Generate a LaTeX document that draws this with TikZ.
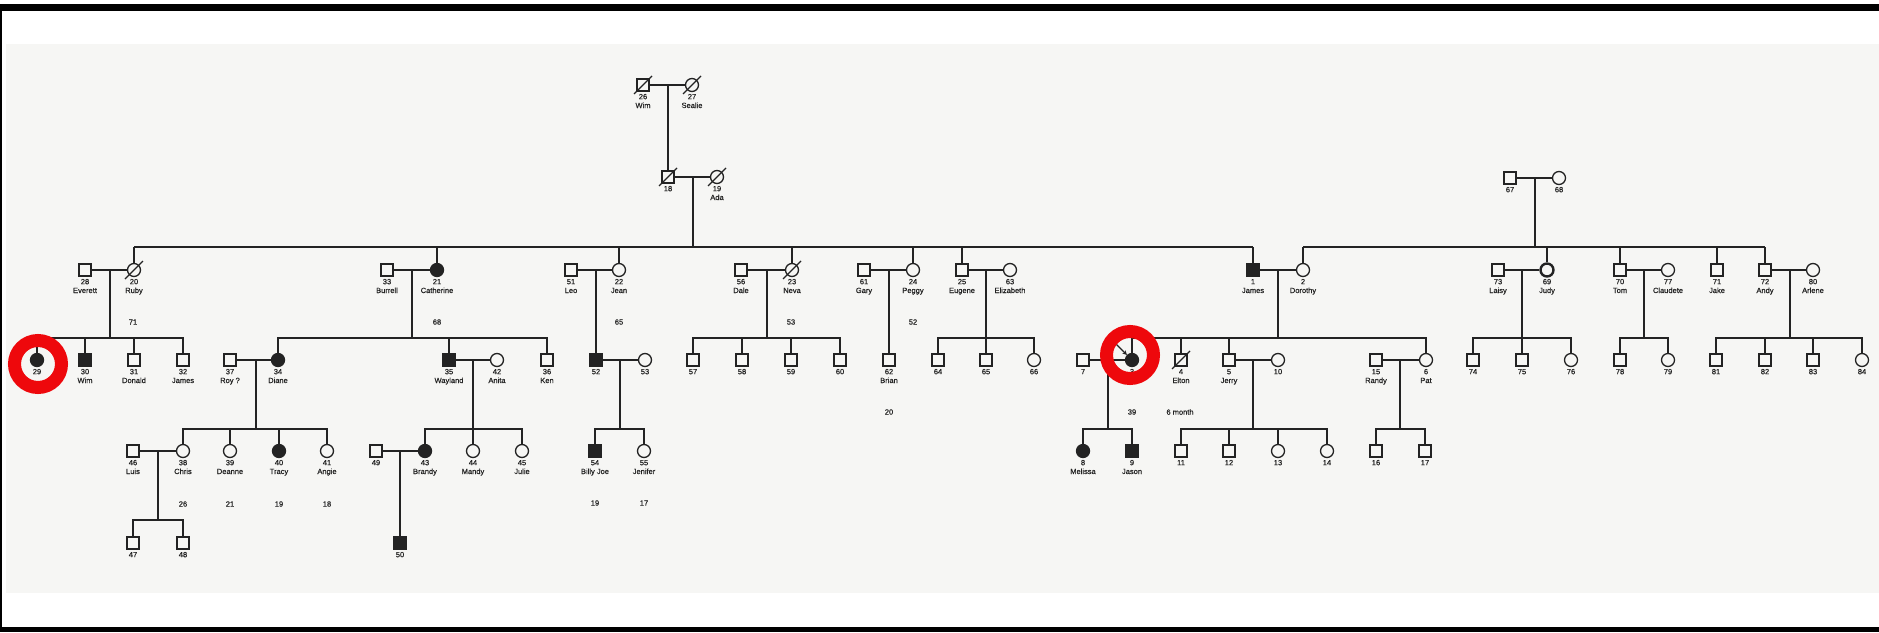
\documentclass[tikz,border=0pt]{standalone}
\usepackage{fontspec}
\setmainfont{Liberation Sans}
\newfontfamily\labfont[FakeBold=0.5]{Liberation Sans}
\usetikzlibrary{arrows.meta}
\definecolor{ink}{RGB}{35,35,35}
\definecolor{scan}{RGB}{246,246,244}
\definecolor{ringred}{RGB}{238,8,12}
\tikzset{
 sq/.style={draw=ink, line width=1.3pt, minimum size=12pt, inner sep=0pt, rectangle},
 ci/.style={draw=ink, line width=1.3pt, minimum size=13pt, inner sep=0pt, circle},
 aff/.style={fill=ink},
 judy/.style={line width=2.4pt},
 num/.style={font=\labfont\fontsize{7.5}{9}\selectfont, anchor=base, inner sep=0pt, text=ink},
 age/.style={font=\labfont\fontsize{7.5}{9}\selectfont, inner sep=0pt, text=ink},
 ln/.style={draw=ink, line width=1.2pt},
 ring/.style={draw=ringred, line width=13pt, circle, minimum size=47pt, inner sep=0pt},
}
\newcommand\pp[6]{%
  \node[#2] (#1) at (#3,-#4) {};
  \node[num] (#1n) at ([yshift=-14.2pt]#1.center) {#5};
  \node[num] (#1t) at ([yshift=-23pt]#1.center) {#6};
}
\newcommand\dead[1]{\draw[ink,line width=1.2pt] ([shift={(-9pt,-9pt)}]#1.center) -- ([shift={(9pt,9pt)}]#1.center);}
\begin{document}
\begin{tikzpicture}[x=1pt,y=1pt]
\useasboundingbox (0,0) rectangle (1879,-632);
% frame and scan
\fill[white] (0,0) rectangle (1879,-632);
\fill[scan] (6,-44) rectangle (1879,-593);
\fill[black] (0,-4) rectangle (1879,-11);
\fill[black] (0,-627) rectangle (1879,-632);
\fill[black] (0,-4) rectangle (2,-632);

% ---------- persons ----------
% Gen I
\pp{p26}{sq}{643}{85}{26}{Wim}
\pp{p27}{ci}{692}{85}{27}{Sealie}
\pp{p18}{sq}{668}{177}{18}{}
\pp{p19}{ci}{717}{177}{19}{Ada}
\dead{p26}\dead{p27}\dead{p18}\dead{p19}
% Gen II
\pp{p28}{sq}{85}{270}{28}{Everett}
\pp{p20}{ci}{134}{270}{20}{Ruby}
\dead{p20}
\pp{p33}{sq}{387}{270}{33}{Burrell}
\pp{p21}{ci,aff}{437}{270}{21}{Catherine}
\pp{p51}{sq}{571}{270}{51}{Leo}
\pp{p22}{ci}{619}{270}{22}{Jean}
\pp{p56}{sq}{741}{270}{56}{Dale}
\pp{p23}{ci}{792}{270}{23}{Neva}
\dead{p23}
\pp{p61}{sq}{864}{270}{61}{Gary}
\pp{p24}{ci}{913}{270}{24}{Peggy}
\pp{p25}{sq}{962}{270}{25}{Eugene}
\pp{p63}{ci}{1010}{270}{63}{Elizabeth}
\pp{p1}{sq,aff}{1253}{270}{1}{James}
\pp{p2}{ci}{1303}{270}{2}{Dorothy}
\pp{p67}{sq}{1510}{178}{67}{}
\pp{p68}{ci}{1559}{178}{68}{}
\pp{p73}{sq}{1498}{270}{73}{Laisy}
\pp{p69}{ci,judy}{1547}{270}{69}{Judy}
\pp{p70}{sq}{1620}{270}{70}{Tom}
\pp{p77}{ci}{1668}{270}{77}{Claudete}
\pp{p71}{sq}{1717}{270}{71}{Jake}
\pp{p72}{sq}{1765}{270}{72}{Andy}
\pp{p80}{ci}{1813}{270}{80}{Arlene}
% Gen III
\pp{p29}{ci,aff}{37}{360}{29}{}
\pp{p30}{sq,aff}{85}{360}{30}{Wim}
\pp{p31}{sq}{134}{360}{31}{Donald}
\pp{p32}{sq}{183}{360}{32}{James}
\pp{p37}{sq}{230}{360}{37}{Roy ?}
\pp{p34}{ci,aff}{278}{360}{34}{Diane}
\pp{p35}{sq,aff}{449}{360}{35}{Wayland}
\pp{p42}{ci}{497}{360}{42}{Anita}
\pp{p36}{sq}{547}{360}{36}{Ken}
\pp{p52}{sq,aff}{596}{360}{52}{}
\pp{p53}{ci}{645}{360}{53}{}
\pp{p57}{sq}{693}{360}{57}{}
\pp{p58}{sq}{742}{360}{58}{}
\pp{p59}{sq}{791}{360}{59}{}
\pp{p60}{sq}{840}{360}{60}{}
\pp{p62}{sq}{889}{360}{62}{Brian}
\pp{p64}{sq}{938}{360}{64}{}
\pp{p65}{sq}{986}{360}{65}{}
\pp{p66}{ci}{1034}{360}{66}{}
\pp{p7}{sq}{1083}{360}{7}{}
\pp{p3}{ci,aff}{1132}{360}{3}{}
\pp{p4}{sq}{1181}{360}{4}{Elton}
\dead{p4}
\pp{p5}{sq}{1229}{360}{5}{Jerry}
\pp{p10}{ci}{1278}{360}{10}{}
\pp{p15}{sq}{1376}{360}{15}{Randy}
\pp{p6}{ci}{1426}{360}{6}{Pat}
\pp{p74}{sq}{1473}{360}{74}{}
\pp{p75}{sq}{1522}{360}{75}{}
\pp{p76}{ci}{1571}{360}{76}{}
\pp{p78}{sq}{1620}{360}{78}{}
\pp{p79}{ci}{1668}{360}{79}{}
\pp{p81}{sq}{1716}{360}{81}{}
\pp{p82}{sq}{1765}{360}{82}{}
\pp{p83}{sq}{1813}{360}{83}{}
\pp{p84}{ci}{1862}{360}{84}{}
% Gen IV
\pp{p46}{sq}{133}{451}{46}{Luis}
\pp{p38}{ci}{183}{451}{38}{Chris}
\pp{p39}{ci}{230}{451}{39}{Deanne}
\pp{p40}{ci,aff}{279}{451}{40}{Tracy}
\pp{p41}{ci}{327}{451}{41}{Angie}
\pp{p49}{sq}{376}{451}{49}{}
\pp{p43}{ci,aff}{425}{451}{43}{Brandy}
\pp{p44}{ci}{473}{451}{44}{Mandy}
\pp{p45}{ci}{522}{451}{45}{Julie}
\pp{p54}{sq,aff}{595}{451}{54}{Billy Joe}
\pp{p55}{ci}{644}{451}{55}{Jenifer}
\pp{p8}{ci,aff}{1083}{451}{8}{Melissa}
\pp{p9}{sq,aff}{1132}{451}{9}{Jason}
\pp{p11}{sq}{1181}{451}{11}{}
\pp{p12}{sq}{1229}{451}{12}{}
\pp{p13}{ci}{1278}{451}{13}{}
\pp{p14}{ci}{1327}{451}{14}{}
\pp{p16}{sq}{1376}{451}{16}{}
\pp{p17}{sq}{1425}{451}{17}{}
% Gen V
\pp{p47}{sq}{133}{543}{47}{}
\pp{p48}{sq}{183}{543}{48}{}
\pp{p50}{sq,aff}{400}{543}{50}{}

% ---------- connectors ----------
\coordinate (m26) at (668,-85);
\draw[ln] (p26) -- (p27);
\draw[ln] (m26) -- (p18);
\coordinate (m18) at (693,-177);
\coordinate (s18) at (693,-247);
\draw[ln] (p18) -- (p19);
\draw[ln] (m18) -- (s18);
\draw[ln] (p20 |- s18) -- (p1 |- s18);
\foreach \c in {p20,p21,p22,p23,p24,p25,p1} \draw[ln] (\c |- s18) -- (\c);

\coordinate (m28) at (110,-270); \coordinate (s28) at (110,-338);
\draw[ln] (p28) -- (p20); \draw[ln] (m28) -- (s28);
\draw[ln] (p29) |- (s28) -| (p32);
\foreach \c in {p30,p31} \draw[ln] (s28 -| \c) -- (\c);

\coordinate (m33) at (412,-270); \coordinate (s33) at (412,-338);
\draw[ln] (p33) -- (p21); \draw[ln] (m33) -- (s33);
\draw[ln] (p34) |- (s33) -| (p36);
\draw[ln] (s33 -| p35) -- (p35);

\coordinate (m51) at (596,-270);
\draw[ln] (p51) -- (p22); \draw[ln] (m51) -- (p52);

\coordinate (m56) at (767,-270); \coordinate (s56) at (767,-338);
\draw[ln] (p56) -- (p23); \draw[ln] (m56) -- (s56);
\draw[ln] (p57) |- (s56) -| (p60);
\foreach \c in {p58,p59} \draw[ln] (s56 -| \c) -- (\c);

\coordinate (m61) at (889,-270);
\draw[ln] (p61) -- (p24); \draw[ln] (m61) -- (p62);

\coordinate (m25) at (986,-270); \coordinate (s25) at (986,-338);
\draw[ln] (p25) -- (p63); \draw[ln] (m25) -- (s25);
\draw[ln] (p64) |- (s25) -| (p66);
\draw[ln] (s25 -| p65) -- (p65);

\coordinate (m1) at (1278,-270); \coordinate (s1) at (1278,-338);
\draw[ln] (p1) -- (p2); \draw[ln] (m1) -- (s1);
\draw[ln] (p3) |- (s1) -| (p6);
\foreach \c in {p4,p5} \draw[ln] (s1 -| \c) -- (\c);

\coordinate (m67) at (1535,-178); \coordinate (s67) at (1535,-247);
\draw[ln] (p67) -- (p68); \draw[ln] (m67) -- (s67);
\draw[ln] (p2 |- s67) -- (p72 |- s67);
\foreach \c in {p2,p69,p70,p71,p72} \draw[ln] (\c |- s67) -- (\c);

\coordinate (m73) at (1522,-270); \coordinate (s73) at (1522,-338);
\draw[ln] (p73) -- (p69); \draw[ln] (m73) -- (s73);
\draw[ln] (p74) |- (s73) -| (p76);
\draw[ln] (s73 -| p75) -- (p75);

\coordinate (m70) at (1644,-270); \coordinate (s70) at (1644,-338);
\draw[ln] (p70) -- (p77); \draw[ln] (m70) -- (s70);
\draw[ln] (p78) |- (s70) -| (p79);

\coordinate (m72) at (1790,-270); \coordinate (s72) at (1790,-338);
\draw[ln] (p72) -- (p80); \draw[ln] (m72) -- (s72);
\draw[ln] (p81) |- (s72) -| (p84);
\foreach \c in {p82,p83} \draw[ln] (s72 -| \c) -- (\c);

\coordinate (m37) at (256,-360); \coordinate (s37) at (256,-429);
\draw[ln] (p37) -- (p34); \draw[ln] (m37) -- (s37);
\draw[ln] (p38) |- (s37) -| (p41);
\foreach \c in {p39,p40} \draw[ln] (s37 -| \c) -- (\c);

\coordinate (m35) at (473,-360); \coordinate (s35) at (473,-429);
\draw[ln] (p35) -- (p42); \draw[ln] (m35) -- (s35);
\draw[ln] (p43) |- (s35) -| (p45);
\draw[ln] (s35 -| p44) -- (p44);

\coordinate (m52) at (620,-360); \coordinate (s52) at (620,-429);
\draw[ln] (p52) -- (p53); \draw[ln] (m52) -- (s52);
\draw[ln] (p54) |- (s52) -| (p55);

\coordinate (m7) at (1108,-360); \coordinate (s7) at (1108,-429);
\draw[ln] (p7) -- (p3); \draw[ln] (m7) -- (s7);
\draw[ln] (p8) |- (s7) -| (p9);

\coordinate (m5) at (1253,-360); \coordinate (s5) at (1253,-429);
\draw[ln] (p5) -- (p10); \draw[ln] (m5) -- (s5);
\draw[ln] (p11) |- (s5) -| (p14);
\foreach \c in {p12,p13} \draw[ln] (s5 -| \c) -- (\c);

\coordinate (m15) at (1400,-360); \coordinate (s15) at (1400,-429);
\draw[ln] (p15) -- (p6); \draw[ln] (m15) -- (s15);
\draw[ln] (p16) |- (s15) -| (p17);

\coordinate (m46) at (158,-451); \coordinate (s46) at (158,-520);
\draw[ln] (p46) -- (p38); \draw[ln] (m46) -- (s46);
\draw[ln] (p47) |- (s46) -| (p48);

\coordinate (m49) at (400,-451);
\draw[ln] (p49) -- (p43); \draw[ln] (m49) -- (p50);

% ---------- ages ----------
\node[age] (a71) at (133,-322) {71};
\node[age] (a68) at (437,-322) {68};
\node[age] (a65) at (619,-322) {65};
\node[age] (a53) at (791,-322) {53};
\node[age] (a52) at (913,-322) {52};
\node[age] (a20) at (889,-412) {20};
\node[age] (a39) at (1132,-412) {39};
\node[age] (a6m) at (1180,-412) {6 month};
\node[age] (a26) at (183,-504) {26};
\node[age] (a21) at (230,-504) {21};
\node[age] (a19) at (279,-504) {19};
\node[age] (a18) at (327,-504) {18};
\node[age] (a19b) at (595,-503) {19};
\node[age] (a17) at (644,-503) {17};

% ---------- proband arrow ----------
\coordinate (arr) at (1115,-343);
\draw[ink, line width=1.1pt, -{Stealth[length=4.5pt,width=4.5pt]}] (arr) -- (p3);

% ---------- red rings ----------
\node[ring] (r1) at (38,-364) {};
\node[ring] (r2) at (1130,-355) {};
\end{tikzpicture}
\end{document}
